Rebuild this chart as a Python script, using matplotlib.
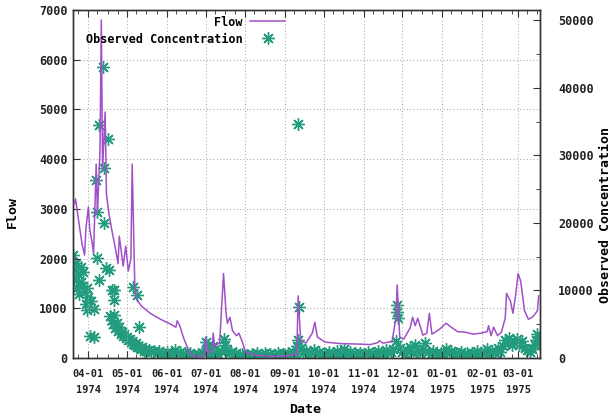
import pandas as pd
import matplotlib
matplotlib.use("Agg")
import matplotlib.pyplot as plt
import matplotlib.dates as mdates
from matplotlib.ticker import MultipleLocator

# Flow (left axis), vertices
flow_dates = [
    "1974-03-21", "1974-03-22", "1974-03-25", "1974-03-27", "1974-03-29",
    "1974-03-30", "1974-04-01", "1974-04-02", "1974-04-04", "1974-04-05",
    "1974-04-07", "1974-04-08", "1974-04-10", "1974-04-11", "1974-04-12",
    "1974-04-14", "1974-04-15", "1974-04-17", "1974-04-19", "1974-04-22",
    "1974-04-24", "1974-04-25", "1974-04-28", "1974-04-30", "1974-05-02",
    "1974-05-04", "1974-05-05", "1974-05-07", "1974-05-08", "1974-05-12",
    "1974-05-19", "1974-05-27", "1974-06-04", "1974-06-08", "1974-06-09",
    "1974-06-11", "1974-06-14", "1974-06-18", "1974-06-21", "1974-06-27",
    "1974-06-30", "1974-07-01", "1974-07-03", "1974-07-06", "1974-07-07",
    "1974-07-08", "1974-07-12", "1974-07-15", "1974-07-17", "1974-07-18",
    "1974-07-20", "1974-07-22", "1974-07-25", "1974-07-27", "1974-07-30",
    "1974-08-01", "1974-08-09", "1974-08-21", "1974-09-01", "1974-09-10",
    "1974-09-11", "1974-09-13", "1974-09-17", "1974-09-22", "1974-09-24",
    "1974-09-26", "1974-10-02", "1974-10-14", "1974-10-29", "1974-11-06",
    "1974-11-12", "1974-11-13", "1974-11-16", "1974-11-23", "1974-11-26",
    "1974-11-27", "1974-11-29", "1974-12-02", "1974-12-07", "1974-12-09",
    "1974-12-11", "1974-12-13", "1974-12-17", "1974-12-20", "1974-12-22",
    "1974-12-24", "1974-12-30", "1975-01-04", "1975-01-08", "1975-01-13",
    "1975-01-19", "1975-01-25", "1975-01-31", "1975-02-05", "1975-02-06",
    "1975-02-08", "1975-02-10", "1975-02-13", "1975-02-16", "1975-02-19",
    "1975-02-20", "1975-02-23", "1975-02-25", "1975-02-27", "1975-03-01",
    "1975-03-03", "1975-03-06", "1975-03-09", "1975-03-12", "1975-03-14",
    "1975-03-16", "1975-03-17",
]
flow_values = [
    3100, 3200, 2650, 2300, 2070,
    2600, 3040, 2600, 2300, 2100,
    3900, 2900, 4200, 6800, 3800,
    4950, 3300, 2900, 2600, 2200,
    1900, 2450, 1850, 2250, 1750,
    2000, 3900, 1500, 1200, 1050,
    900, 780, 680, 620, 750,
    650, 400, 150, 50, 20,
    40, 420, 100, 150, 500,
    250, 300, 1700, 900, 700,
    820, 550, 450, 500, 300,
    120, 60, 30, 40, 80,
    1250, 350, 300, 500, 720,
    420, 320, 290, 280, 270,
    310, 350, 300, 330, 800,
    1470, 420, 380, 600, 820,
    650, 800, 460, 500, 900,
    480, 580, 700, 620, 530,
    520, 480, 500, 530, 650,
    450, 620, 450, 520, 800,
    1300, 1150, 900, 1250, 1700,
    1550, 950, 780, 820, 880,
    950, 1250,
]

# Observed concentration (right axis)
conc_dates = [
    # March / April high-flow samples
    "1974-03-20", "1974-03-21", "1974-03-22", "1974-03-22", "1974-03-23",
    "1974-03-24", "1974-03-25", "1974-03-26", "1974-03-26", "1974-03-27",
    "1974-03-28", "1974-03-29", "1974-03-30", "1974-03-31", "1974-03-31",
    "1974-04-01", "1974-04-02", "1974-04-03", "1974-04-05", "1974-04-05",
    "1974-04-07", "1974-04-08", "1974-04-08", "1974-04-09", "1974-04-09",
    "1974-04-12", "1974-04-13", "1974-04-13", "1974-04-15", "1974-04-16",
    "1974-04-17", "1974-04-19", "1974-04-21", "1974-04-21",
    # recession
    "1974-04-18", "1974-04-19", "1974-04-20", "1974-04-21", "1974-04-22",
    "1974-04-23", "1974-04-24", "1974-04-25", "1974-04-26", "1974-04-27",
    "1974-04-28", "1974-04-29", "1974-04-30", "1974-05-01", "1974-05-02",
    "1974-05-03", "1974-05-04", "1974-05-05", "1974-05-06", "1974-05-06",
    "1974-05-07", "1974-05-08", "1974-05-09", "1974-05-09", "1974-05-10",
    "1974-05-11", "1974-05-12", "1974-05-13", "1974-05-14", "1974-05-15",
    "1974-05-16", "1974-05-18",
    # low-flow band
    "1974-05-20", "1974-05-22", "1974-05-24", "1974-05-26", "1974-05-28",
    "1974-05-30", "1974-06-01", "1974-06-03", "1974-06-05", "1974-06-07",
    "1974-06-09", "1974-06-11", "1974-06-13", "1974-06-15", "1974-06-17",
    "1974-06-19", "1974-06-21", "1974-06-23", "1974-06-25", "1974-06-27",
    "1974-06-29", "1974-07-01", "1974-07-02", "1974-07-03", "1974-07-05",
    "1974-07-07", "1974-07-09", "1974-07-11", "1974-07-13", "1974-07-15",
    "1974-07-16", "1974-07-17", "1974-07-19", "1974-07-21", "1974-07-23",
    "1974-07-25", "1974-07-27", "1974-07-29", "1974-07-31", "1974-08-02",
    "1974-08-04", "1974-08-06", "1974-08-08", "1974-08-10", "1974-08-12",
    "1974-08-14", "1974-08-16", "1974-08-18", "1974-08-20", "1974-08-22",
    "1974-08-24", "1974-08-26", "1974-08-28", "1974-08-30", "1974-09-01",
    "1974-09-03", "1974-09-05", "1974-09-07", "1974-09-09", "1974-09-10",
    "1974-09-11", "1974-09-11", "1974-09-12", "1974-09-13", "1974-09-15",
    "1974-09-17", "1974-09-19", "1974-09-21", "1974-09-23", "1974-09-25",
    "1974-09-27", "1974-09-29", "1974-10-01", "1974-10-03", "1974-10-05",
    "1974-10-07", "1974-10-09", "1974-10-11", "1974-10-13", "1974-10-15",
    "1974-10-17", "1974-10-19", "1974-10-21", "1974-10-23", "1974-10-25",
    "1974-10-27", "1974-10-29", "1974-10-31", "1974-11-02", "1974-11-04",
    "1974-11-06", "1974-11-08", "1974-11-10", "1974-11-12", "1974-11-14",
    "1974-11-16", "1974-11-18", "1974-11-20", "1974-11-22", "1974-11-24",
    "1974-11-26", "1974-11-27", "1974-11-27", "1974-11-28", "1974-11-29",
    "1974-12-01", "1974-12-03", "1974-12-05", "1974-12-07", "1974-12-09",
    "1974-12-11", "1974-12-13", "1974-12-15", "1974-12-17", "1974-12-19",
    "1974-12-21", "1974-12-23", "1974-12-25", "1974-12-27", "1974-12-29",
    "1974-12-31", "1975-01-02", "1975-01-04", "1975-01-06", "1975-01-08",
    "1975-01-10", "1975-01-12", "1975-01-14", "1975-01-16", "1975-01-18",
    "1975-01-20", "1975-01-22", "1975-01-24", "1975-01-26", "1975-01-28",
    "1975-01-30", "1975-02-01", "1975-02-03", "1975-02-05", "1975-02-07",
    "1975-02-09", "1975-02-11", "1975-02-13", "1975-02-15", "1975-02-17",
    "1975-02-19", "1975-02-21", "1975-02-22", "1975-02-24", "1975-02-26",
    "1975-02-28", "1975-03-02", "1975-03-04", "1975-03-06", "1975-03-08",
    "1975-03-10", "1975-03-12", "1975-03-14", "1975-03-15", "1975-03-16",
    "1975-03-17",
]
conc_values = [
    15200, 13000, 11500, 14000, 10300,
    12500, 9500, 13500, 11200, 10600,
    12700, 9800, 8000, 10400, 7100,
    9000, 3300, 8400, 7300, 3100,
    26300, 21600, 14800, 34500, 11500,
    43000, 28100, 20000, 13300, 32400,
    13000, 10000, 10000, 8600,
    6200, 5600, 5000, 6400, 4500,
    5200, 4000, 4600, 3600, 3900,
    3200, 3500, 2900, 3100, 2600,
    2800, 2300, 2500, 2100, 10500,
    1900, 2200, 1700, 9300, 4600,
    1500, 1300, 1600, 1100, 1300,
    1000, 1200,
    900, 1100, 700, 1000, 800,
    600, 900, 500, 800, 1200,
    600, 900, 500, 700, 400,
    800, 500, 300, 600, 400,
    700, 2400, 1500, 900, 500,
    1800, 800, 600, 1100, 2800,
    1900, 1200, 700, 900, 500,
    800, 400, 600, 300, 500,
    300, 600, 400, 700, 300,
    500, 800, 400, 600, 300,
    500, 700, 400, 600, 500,
    800, 400, 900, 600, 1800,
    34600, 2700, 7500, 1500, 700,
    1100, 500, 800, 1200, 600,
    900, 400, 700, 500, 900,
    400, 600, 1000, 500, 800,
    1300, 600, 900, 400, 700,
    500, 800, 400, 600, 900,
    400, 700, 500, 1000, 600,
    800, 1200, 700, 900, 1300,
    2500, 7800, 6800, 5900, 1500,
    900, 600, 1100, 1600, 800,
    1900, 1000, 700, 1300, 2200,
    900, 600, 1000, 700, 500,
    800, 600, 1400, 700, 1000,
    500, 800, 600, 900, 400,
    700, 500, 800, 600, 1000,
    500, 700, 900, 1300, 600,
    1000, 800, 1500, 900, 1800,
    2600, 2200, 2900, 1900, 2400,
    2800, 2000, 2500, 1500, 1200,
    900, 1400, 1900, 2700, 3600,
    2300,
]

flow_color = "#a150c8"
conc_color = "#229c7c"
mono = "DejaVu Sans Mono"
font = {"family": mono, "weight": "bold", "size": 8.5}
label_font = {"family": mono, "weight": "bold", "size": 9.5}

fig = plt.figure(figsize=(6.15, 4.18), dpi=100)
ax = fig.add_axes([0.1187, 0.1435, 0.7593, 0.8325])
ax2 = ax.twinx()

# Flow on the left axis
line, = ax.plot(pd.to_datetime(flow_dates), flow_values, color=flow_color,
                lw=1.1, label="Flow", zorder=3)

# Concentration on the right axis
pts, = ax2.plot(pd.to_datetime(conc_dates), conc_values, ls="none",
                marker=(8, 2, 0), markersize=9, markeredgewidth=1.0,
                color=conc_color, label="Observed Concentration", zorder=2)

ax.set_xlim(pd.Timestamp("1974-03-20"), pd.Timestamp("1975-03-18"))
ax.set_ylim(0, 7000)
ax2.set_ylim(0, 51500)

# Axis ticks
ax.xaxis.set_major_locator(mdates.MonthLocator())
ax.xaxis.set_minor_locator(mdates.DayLocator(bymonthday=[8, 16, 24]))
ax.xaxis.set_major_formatter(mdates.DateFormatter("%m-%d\n%Y"))
ax.yaxis.set_major_locator(MultipleLocator(1000))
ax2.yaxis.set_major_locator(MultipleLocator(10000))
ax2.yaxis.set_minor_locator(MultipleLocator(5000))

ax.grid(True, which="major", color="#b0b0b0", ls=(0, (1, 2)), lw=0.8)
ax.tick_params(axis="both", which="both", direction="in", top=True,
               colors="#333333", labelcolor="#222222")
ax.tick_params(axis="y", which="major", length=5, pad=4, labelsize=8.5)
ax.tick_params(axis="x", which="major", length=5, pad=8, labelsize=7.5)
ax.tick_params(axis="x", which="minor", length=3)
ax2.tick_params(axis="y", which="both", direction="in", pad=13,
                labelsize=8.5, colors="#333333", labelcolor="#222222")
ax2.tick_params(axis="y", which="major", length=5)
ax2.tick_params(axis="y", which="minor", length=3)

for lab in ax.get_xticklabels():
    lab.set_fontfamily(mono)
    lab.set_fontweight("bold")
    lab.set_linespacing(1.7)
for lab in ax.get_yticklabels() + ax2.get_yticklabels():
    lab.set_fontfamily(mono)
    lab.set_fontweight("bold")

for a in (ax, ax2):
    for sp in a.spines.values():
        sp.set_color("#333333")
        sp.set_linewidth(1.0)

ax.set_ylabel("Flow", **label_font)
ax.yaxis.set_label_coords(-0.116, 0.42)
ax2.set_ylabel("Observed Concentration", **label_font)
ax2.yaxis.set_label_coords(1.126, 0.41)
ax.set_xlabel("Date", **label_font)
ax.xaxis.set_label_coords(0.497, -0.128)

# Legend: one entry per box, right aligned like gnuplot
ax2.set_zorder(ax.get_zorder() - 1)
ax.patch.set_visible(False)
leg_kw = dict(loc="center right", frameon=False, markerfirst=False,
              handlelength=3.0, handletextpad=0.6, borderpad=0,
              borderaxespad=0, prop=font)
leg1 = ax.legend([line], ["Flow"], bbox_to_anchor=(0.455, 0.9655), **leg_kw)
ax.add_artist(leg1)
ax.legend([pts], ["Observed Concentration"], bbox_to_anchor=(0.455, 0.9167),
          **leg_kw)

fig.savefig("out.png", dpi=100)
